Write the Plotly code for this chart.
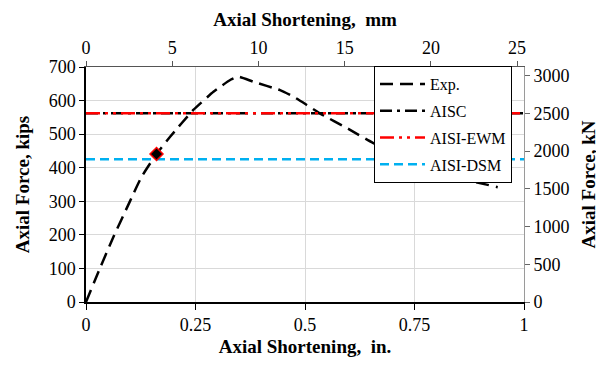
import plotly.graph_objects as go

# Data
exp_x = [0, 0.03, 0.063, 0.1, 0.127, 0.161, 0.192, 0.245, 0.291, 0.33, 0.348, 0.382,
         0.443, 0.473, 0.504, 0.534, 0.6, 0.655, 0.75, 0.85, 0.94]
exp_y = [0, 95, 195, 299, 373, 441, 492, 572, 626, 662, 671, 656,
         631, 612, 587, 562, 515, 474, 415, 370, 342]
aisc_y = 562
ewm_y = 562
dsm_y = 425
marker_x = [0.161]
marker_y = [441]
x_span = [0, 1]

x_tickvals = [0, 0.25, 0.5, 0.75, 1]
x_ticktext = ["0", "0.25", "0.5", "0.75", "1"]
KN_PER_KIP = 4.44822
MM_PER_IN = 25.4

FONT = "Liberation Serif, Times New Roman, serif"

fig = go.Figure()
fig.add_trace(go.Scatter(x=exp_x, y=exp_y, mode="lines", name="Exp.",
                         line=dict(color="black", width=2.5, dash="13px,7px", shape="spline", smoothing=0.5),
                         legendgroup="a"))
fig.add_trace(go.Scatter(x=x_span, y=[aisc_y, aisc_y], mode="lines", name="AISC",
                         line=dict(color="black", width=2.5, dash="12px,5px,3px,5px"),
                         legendgroup="b"))
fig.add_trace(go.Scatter(x=x_span, y=[ewm_y, ewm_y], mode="lines", name="AISI-EWM",
                         line=dict(color="#FF0000", width=2.5, dash="14px,5px,3px,5px,3px,5px"),
                         legendgroup="c"))
fig.add_trace(go.Scatter(x=x_span, y=[dsm_y, dsm_y], mode="lines", name="AISI-DSM",
                         line=dict(color="#00B0F0", width=2.5, dash="9px,5px"),
                         legendgroup="d"))
fig.add_trace(go.Scatter(x=marker_x, y=marker_y, mode="markers", showlegend=False,
                         marker=dict(symbol="diamond", size=10, color="black",
                                     line=dict(color="#FF0000", width=1.5))))
# invisible trace to activate secondary axes
fig.add_trace(go.Scatter(x=[0, MM_PER_IN], y=[0, 0], xaxis="x2", yaxis="y2", mode="lines",
                         line=dict(width=0), showlegend=False, hoverinfo="skip", opacity=0))

tickfont = dict(family=FONT, size=18, color="black")
titlefont = dict(family=FONT, size=19, color="black", weight="bold")

fig.update_layout(
    width=604, height=366,
    margin=dict(l=78, r=88, t=59, b=72, autoexpand=False),
    paper_bgcolor="white", plot_bgcolor="white",
    font=dict(family=FONT, color="black"),
    xaxis=dict(range=[0, 1], tickvals=x_tickvals, ticktext=x_ticktext,
               showgrid=True, gridcolor="#d9d9d9", gridwidth=1,
               showline=True, linecolor="black", linewidth=1.5,
               ticks="outside", ticklen=6, tickcolor="black",
               tickfont=tickfont, zeroline=False, automargin=False,
               title=dict(text="Axial Shortening,  in.", font=titlefont, standoff=5)),
    xaxis2=dict(range=[0, MM_PER_IN], overlaying="x", side="top", dtick=5, tick0=0,
                showgrid=False, showline=True, linecolor="#555555", linewidth=1,
                ticks="outside", ticklen=5, tickcolor="#555555",
                tickfont=tickfont, zeroline=False, automargin=False,
                title=dict(text="Axial Shortening,  mm", font=titlefont, standoff=6)),
    yaxis=dict(range=[0, 700], dtick=100, tick0=0,
               showgrid=True, gridcolor="#d9d9d9", gridwidth=1,
               showline=True, linecolor="black", linewidth=1.5,
               ticks="outside", ticklen=5, tickcolor="black",
               tickfont=tickfont, zeroline=False, automargin=False,
               title=dict(text="Axial Force, kips", font=titlefont, standoff=14)),
    yaxis2=dict(range=[0, 700 * KN_PER_KIP], dtick=500, tick0=0, overlaying="y", side="right",
                showgrid=False, showline=True, linecolor="#9a9a9a", linewidth=1,
                ticks="outside", ticklen=5, tickcolor="#666666",
                tickfont=tickfont, zeroline=False, automargin=False,
                title=dict(text="Axial Force, kN", font=titlefont, standoff=13)),
    legend=dict(x=(374 - 86) / 438, y=1.004, xanchor="left", yanchor="top",
                bgcolor="white", bordercolor="black", borderwidth=1,
                font=dict(family=FONT, size=16, color="black"),
                tracegroupgap=3, itemwidth=45),
    showlegend=True,
)

fig.write_html("out.html")
